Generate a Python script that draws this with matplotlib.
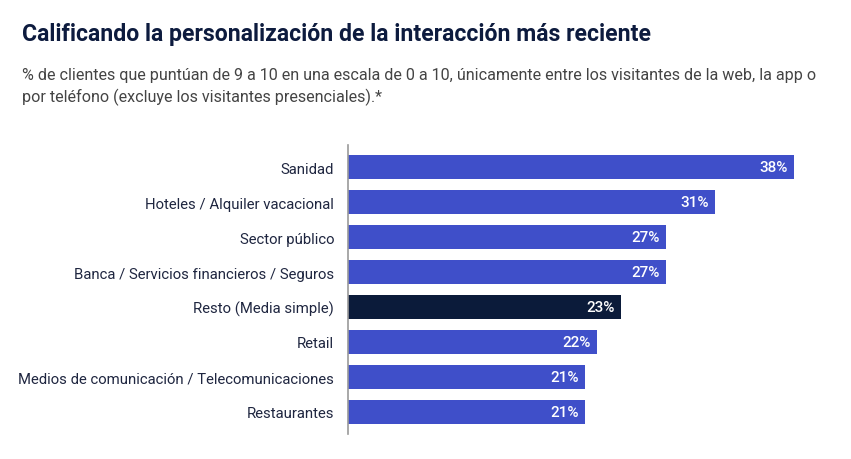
import matplotlib
matplotlib.use("Agg")
import matplotlib.pyplot as plt

categories = ["Sanidad", "Hoteles / Alquiler vacacional", "Sector público",
              "Banca / Servicios financieros / Seguros", "Resto (Media simple)",
              "Retail", "Medios de comunicación / Telecomunicaciones", "Restaurantes"]
# bar lengths (labels are rounded)
values = [38.0, 31.3, 27.1, 27.1, 23.3, 21.2, 20.2, 20.2]
value_labels = ["38%", "31%", "27%", "27%", "23%", "22%", "21%", "21%"]
highlight = "Resto (Media simple)"

title = "Calificando la personalización de la interacción más reciente"
subtitle = ("% de clientes que puntúan de 9 a 10 en una escala de 0 a 10, únicamente entre los visitantes de la web, la app o\n"
            "por teléfono (excluye los visitantes presenciales).*")

W, H = 851, 460
fig = plt.figure(figsize=(W/100, H/100), dpi=100)
fig.patch.set_facecolor("white")

ax = fig.add_axes([348/W, (H-435)/H, 446/W, 289/H])
blue = "#3F4FC9"
navy = "#0B1B3A"
colors = [navy if c == highlight else blue for c in categories]
ypos = list(range(len(categories)))
ax.barh(ypos, values, height=0.686, color=colors)
ax.set_xlim(0, 38)
ax.set_ylim(len(categories) - 0.37, -0.63)
for s in ["top", "right", "bottom"]:
    ax.spines[s].set_visible(False)
ax.spines["left"].set_color("#9a9a9a")
ax.spines["left"].set_linewidth(1.2)
ax.set_xticks([])
ax.set_yticks(ypos)
ax.set_yticklabels(categories, fontsize=10.7, color="#1F2640", family="Roboto")
ax.tick_params(axis="y", length=0, pad=10)
for y, v, lab in zip(ypos, values, value_labels):
    ax.annotate(lab, (v, y), xytext=(-4.5, 0), textcoords="offset points",
                ha="right", va="center", color="white", fontsize=11,
                fontweight="medium", family="Roboto")

fig.text(22/W, 1 - 35/H, title, fontsize=16.6, fontweight="bold", color="#0D1B3E",
         family="Roboto", va="center", ha="left")
fig.text(22/W, 1 - 87/H, subtitle, fontsize=11.6, color="#444444",
         family="Roboto", va="center", ha="left", linespacing=1.45)

fig.savefig("out.png", dpi=100)
